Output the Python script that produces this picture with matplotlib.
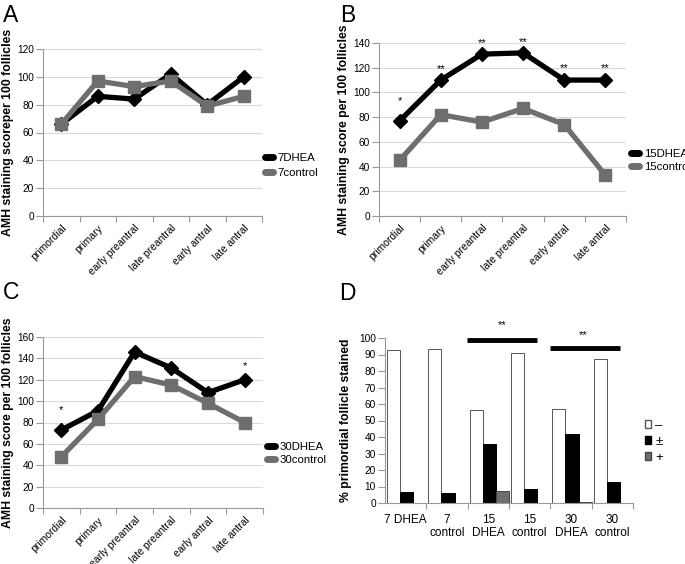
import numpy as np
import matplotlib
matplotlib.use('Agg')
import matplotlib.pyplot as plt
from matplotlib.lines import Line2D
from matplotlib.patches import Patch

plt.rcParams['font.family'] = ['Liberation Sans', 'DejaVu Sans']

stages = ['primordial', 'primary', 'early preantral', 'late preantral', 'early antral', 'late antral']

a_dhea = [66, 86, 84, 102, 80, 100]
a_ctrl = [66, 97, 93, 97, 79, 86]

b_dhea = [77, 110, 131, 132, 110, 110]
b_ctrl = [45, 82, 76, 87, 74, 33]
b_stars = ['*', '**', '**', '**', '**', '**']
b_star_y = [93, 119, 140, 141, 120, 120]

c_dhea = [73, 91, 146, 131, 108, 120]
c_ctrl = [48, 83, 123, 115, 98, 80]
c_stars = ['*', '', '', '', '', '*']
c_star_y = [92, 0, 0, 0, 0, 133]

groups = ['7 DHEA', '7\ncontrol', '15\nDHEA', '15\ncontrol', '30\nDHEA', '30\ncontrol']
neg = [93, 93.5, 56.5, 91, 57, 87]
pm = [6.5, 6.2, 36, 8.7, 41.7, 12.7]
pos = [0, 0, 7.3, 0, 0.8, 0]

W, H = 685, 564
fig = plt.figure(figsize=(W / 100, H / 100), dpi=100)
GRAY = '#6e6e6e'
AXC = '#999999'


def box(l, t, r, b):
    return [l / W, 1 - b / H, (r - l) / W, (b - t) / H]


def line_panel(rect, dhea, ctrl, ymax, ylabel, names, letter, legpos, letpos, spacing,
               stars=None, star_y=None):
    ax = fig.add_axes(box(*rect))
    x = np.arange(len(stages)) + 0.5
    ax.plot(x, dhea, color='black', lw=3.8, marker='D', ms=7, zorder=3)
    ax.plot(x, ctrl, color=GRAY, lw=3.8, marker='s', ms=9, zorder=3)
    ax.set_xlim(0, 6)
    ax.set_ylim(0, ymax)
    ax.set_yticks(np.arange(0, ymax + 1, 20))
    ax.yaxis.grid(True, color='#d9d9d9', lw=0.8)
    ax.set_axisbelow(True)
    ax.set_xticks(np.arange(0, 7))
    ax.set_xticklabels([])
    ax.set_xticks(x, minor=True)
    ax.set_xticklabels(stages, minor=True, rotation=45, ha='right', rotation_mode='anchor', fontsize=7.5)
    ax.tick_params(axis='x', which='minor', length=0, pad=5)
    ax.tick_params(axis='x', which='major', length=4, color=AXC)
    ax.tick_params(axis='y', length=5, color=AXC, labelsize=7.3, pad=1.5)
    for s in ['top', 'right']:
        ax.spines[s].set_visible(False)
    ax.spines['left'].set_color(AXC)
    ax.spines['bottom'].set_color(AXC)
    ax.set_ylabel(ylabel, fontsize=8.8, fontweight='bold', labelpad=2.5)
    if stars:
        for xi, s, yv in zip(x, stars, star_y):
            if s:
                ax.text(xi, yv, s, ha='center', va='center', fontsize=8)
    handles = [Line2D([0], [0], color='black', lw=5, solid_capstyle='round'),
               Line2D([0], [0], color=GRAY, lw=5, solid_capstyle='round')]
    fig.legend(handles, names, loc='upper left', bbox_to_anchor=(legpos[0] / W, 1 - legpos[1] / H),
               frameon=False, fontsize=8.2, handlelength=0.75, handletextpad=0.4,
               labelspacing=spacing, borderpad=0)
    fig.text(letpos[0] / W, 1 - letpos[1] / H, letter, fontsize=16.5, va='center', ha='left')
    return ax


line_panel((43, 49, 262, 216), a_dhea, a_ctrl, 120, 'AMH staining scoreper 100 follicles',
           ['7DHEA', '7control'], 'A', (259, 147), (3, 15), 0.45)
line_panel((379, 43, 626, 216), b_dhea, b_ctrl, 140, 'AMH staining score per 100 follicles',
           ['15DHEA', '15control'], 'B', (625, 143), (340, 15), 0.3, b_stars, b_star_y)
line_panel((43, 337, 263, 508), c_dhea, c_ctrl, 160, 'AMH staining score per 100 follicles',
           ['30DHEA', '30control'], 'C', (261, 436), (3, 293), 0.3, c_stars, c_star_y)

# panel D
ax = fig.add_axes(box(385, 338, 633, 503))
gx = np.arange(len(groups))
w = 0.317
ax.bar(gx - 0.293, neg, w, color='white', edgecolor='#555555', lw=0.7)
ax.bar(gx + 0.024, pm, w, color='black', edgecolor='black', lw=0.7)
ax.bar(gx + 0.34, pos, w, color=GRAY, edgecolor='#444444', lw=0.7)
ax.set_xlim(-0.5, 5.5)
ax.set_ylim(0, 100)
ax.set_yticks(np.arange(0, 101, 10))
ax.set_xticks(np.arange(0.5, 5.6, 1))
ax.set_xticklabels([])
ax.set_xticks(gx, minor=True)
ax.set_xticklabels(groups, minor=True, fontsize=8.5, va='top', ha='center', linespacing=1.1)
ax.tick_params(axis='x', which='minor', length=0, pad=8)
ax.tick_params(axis='x', which='major', length=4, color=AXC)
ax.tick_params(axis='y', length=5, color=AXC, labelsize=7.3, pad=1.5)
for s in ['top', 'right']:
    ax.spines[s].set_visible(False)
ax.spines['left'].set_color(AXC)
ax.spines['bottom'].set_color(AXC)
ax.set_ylabel('% primordial follicle stained', fontsize=8.8, fontweight='bold', labelpad=5)
ax.plot([1.48, 3.18], [98.5, 98.5], color='black', lw=3.5, clip_on=False, solid_capstyle='butt')
ax.plot([3.49, 5.19], [94, 94], color='black', lw=3.5, clip_on=False, solid_capstyle='butt')
ax.text(2.33, 108, '**', ha='center', va='center', fontsize=8)
ax.text(4.29, 102, '**', ha='center', va='center', fontsize=8)
handles = [Patch(facecolor='white', edgecolor='#555555'), Patch(facecolor='black', edgecolor='black'),
           Patch(facecolor=GRAY, edgecolor='#444444')]
fig.legend(handles, ['\u2013', '\u00b1', '+'], loc='upper left', bbox_to_anchor=(638 / W, 1 - 413 / H),
           frameon=False, fontsize=9.5, handlelength=0.5, handleheight=0.5, handletextpad=0.3,
           labelspacing=0.3, borderpad=0)
fig.text(339 / W, 1 - 294 / H, 'D', fontsize=16.5, va='center', ha='left')

fig.savefig('out.png', dpi=100)
